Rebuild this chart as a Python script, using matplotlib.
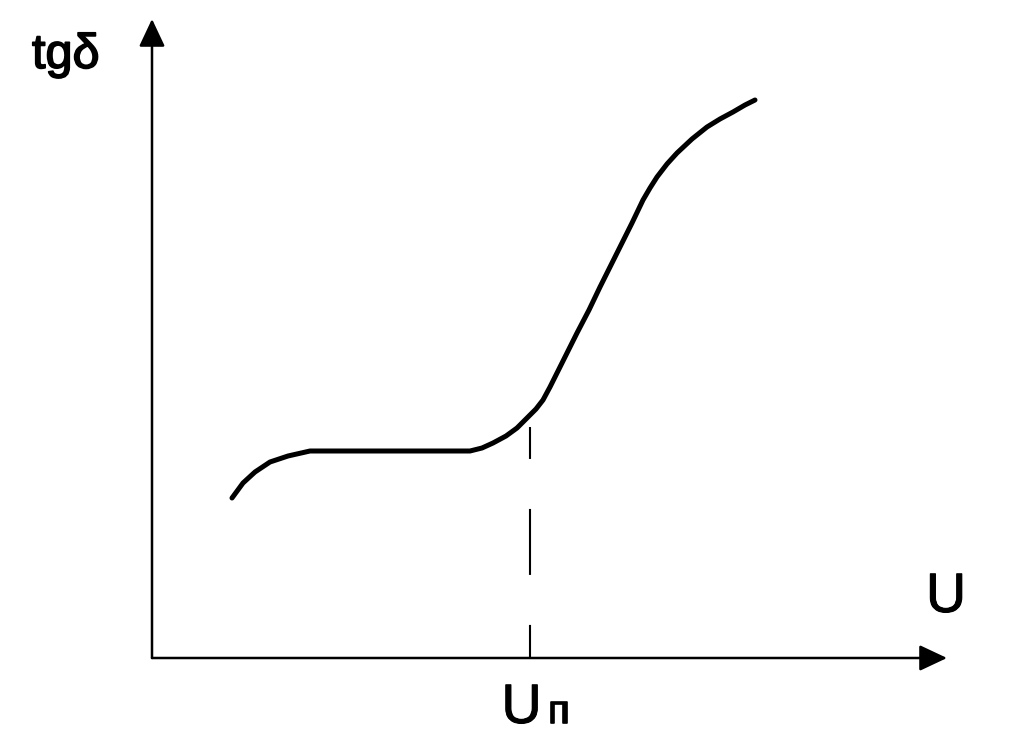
import matplotlib
matplotlib.use("Agg")
import matplotlib.pyplot as plt
import matplotlib.patheffects as pe

# curve (relative units, origin at the axes corner)
u_values = [8.0, 9.1, 10.3, 11.8, 13.6, 15.8, 19.8, 23.8, 27.8, 31.8, 33.0,
            34.1, 35.4, 36.5, 37.5, 38.4, 39.1, 39.8, 40.5, 41.5, 42.5, 43.7,
            44.8, 45.8, 46.8, 48.0, 49.1, 49.8, 50.5, 51.5, 52.5, 54.0, 55.5,
            56.8, 58.1, 59.3, 60.3]
tg_values = [16.0, 17.5, 18.6, 19.6, 20.2, 20.7, 20.7, 20.7, 20.7, 20.7, 21.0,
             21.5, 22.2, 23.0, 24.0, 24.9, 25.8, 27.1, 28.5, 30.5, 32.5, 34.8,
             37.1, 39.1, 41.1, 43.5, 45.8, 47.0, 48.1, 49.4, 50.5, 51.9, 53.1,
             53.9, 54.6, 55.3, 55.8]
u_p = 37.8
tg_at_u_p = 23.1

x_label = "U"
y_label = "tg\u03b4"
u_p_label = "U"
u_p_sub = "\u043f"


def main():
    """Draw the tg(delta) versus U sketch."""

    plt.rcParams["lines.scale_dashes"] = False
    fig = plt.figure(figsize=(10.16, 7.53), dpi=100)
    ax = fig.add_axes([0, 0, 1, 1])
    ax.set_xlim(-15.2, 86.4)
    ax.set_ylim(-9.5, 65.8)
    ax.axis("off")

    arrow = dict(arrowstyle="-|>,head_length=0.85,head_width=0.4",
                 color="black", lw=1.8, shrinkA=0, shrinkB=0,
                 mutation_scale=20)
    ax.annotate("", xy=(79.5, 0), xytext=(0, 0), arrowprops=arrow)
    ax.annotate("", xy=(0, 63.9), xytext=(0, 0), arrowprops=arrow)

    ax.plot(u_values, tg_values, color="black", lw=3.6,
            solid_capstyle="round", solid_joinstyle="round")
    ax.plot([u_p, u_p], [tg_at_u_p, 0], color="black", lw=1.5,
            linestyle=(24.5, (47.5, 36)))

    font = "Liberation Sans"
    heavy = [pe.withStroke(linewidth=1.2, foreground="black")]
    light = [pe.withStroke(linewidth=0.7, foreground="black")]
    ax.text(-12.0, 59.0, y_label, fontsize=35, family=font,
            ha="left", va="baseline", path_effects=heavy)
    ax.text(79.4, 4.6, x_label, fontsize=40, family=font,
            ha="center", va="baseline", path_effects=light)
    ax.text(36.95, -6.5, u_p_label, fontsize=40, family=font,
            ha="center", va="baseline", path_effects=light)
    ax.text(39.6, -6.5, u_p_sub, fontsize=29, family=font,
            ha="left", va="baseline", path_effects=heavy)

    fig.savefig("out.png", dpi=100)


if __name__ == "__main__":
    main()
